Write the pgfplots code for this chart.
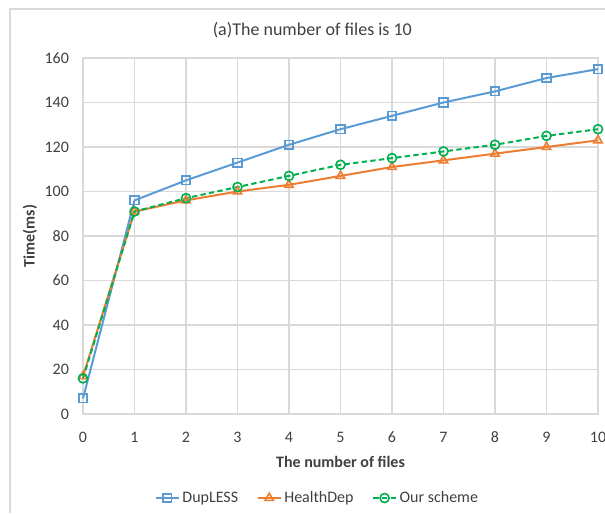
\documentclass[border=0pt]{standalone}
\usepackage{pgfplots}
\pgfplotsset{compat=1.18}
\usepackage{fontspec}
\setmainfont{Carlito}
\definecolor{cblue}{HTML}{5B9BD5}
\definecolor{corange}{HTML}{ED7D31}
\definecolor{cgreen}{HTML}{00B050}
\definecolor{cgrid}{HTML}{D9D9D9}
\definecolor{ctext}{HTML}{404040}
\begin{document}
\begin{tikzpicture}
\draw[cgrid, line width=0.8pt] (-54.75pt,-74.25pt) -- (-54.75pt,303.75pt) -- (392pt,303.75pt);
\begin{axis}[
  at={(0,0)}, anchor=south west,
  width=386.25pt, height=267pt, scale only axis,
  xmin=0, xmax=10, ymin=0, ymax=160,
  xtick={0,1,...,10}, ytick={0,20,...,160},
  grid=major,
  major grid style={cgrid, line width=0.8pt},
  axis line style={cgrid, line width=0.8pt},
  major tick length=0pt,
  font=\fontsize{12}{14}\selectfont,
  tick label style={text=ctext},
  /pgf/number format/assume math mode=true,
  yticklabel style={xshift=-7pt},
  xticklabel style={yshift=-10pt},
  xlabel={\bfseries The number of files},
  ylabel={\bfseries Time(ms)},
  label style={text=ctext},
  xlabel style={at={(axis description cs:0.5,-0.135)}, anchor=center},
  ylabel style={at={(axis description cs:-0.103,0.5)}, anchor=center},
  legend columns=3,
  legend style={at={(0.456,-0.236)}, anchor=center, draw=none, fill=none,
    font=\fontsize{12}{14}\selectfont, text=ctext,
    /tikz/every even column/.append style={column sep=12pt}},
  legend image code/.code={
    \draw[mark repeat=2,mark phase=2,#1] plot coordinates {(0cm,0cm) (0.3cm,0cm) (0.6cm,0cm)};},
  clip=false,
]
\addplot[cblue, line width=1.5pt, mark=square, mark size=3.2pt, mark options={fill=white, solid, line width=1.2pt}]
  coordinates {(0,7) (1,96) (2,105) (3,113) (4,121) (5,128) (6,134) (7,140) (8,145) (9,151) (10,155)};
\addlegendentry{DupLESS}
\addplot[corange, line width=1.5pt, mark=triangle, mark size=3.6pt, mark options={fill=white, solid, line width=1.2pt}]
  coordinates {(0,17) (1,91) (2,96) (3,100) (4,103) (5,107) (6,111) (7,114) (8,117) (9,120) (10,123)};
\addlegendentry{HealthDep}
\addplot[cgreen, line width=1.5pt, dashed, dash pattern=on 4pt off 2.5pt, mark=o, mark size=3.4pt, mark options={fill=white, solid, line width=1.2pt}]
  coordinates {(0,16) (1,91) (2,97) (3,102) (4,107) (5,112) (6,115) (7,118) (8,121) (9,125) (10,128)};
\addlegendentry{Our scheme}
\end{axis}
\node[font=\fontsize{13.5}{15}\selectfont, text=ctext] at (172pt, 288pt) {(a)The number of files is 10};
\pgfresetboundingbox
\path (-62.25pt,-74.25pt) rectangle (391.5pt,310.5pt);
\end{tikzpicture}
\end{document}
